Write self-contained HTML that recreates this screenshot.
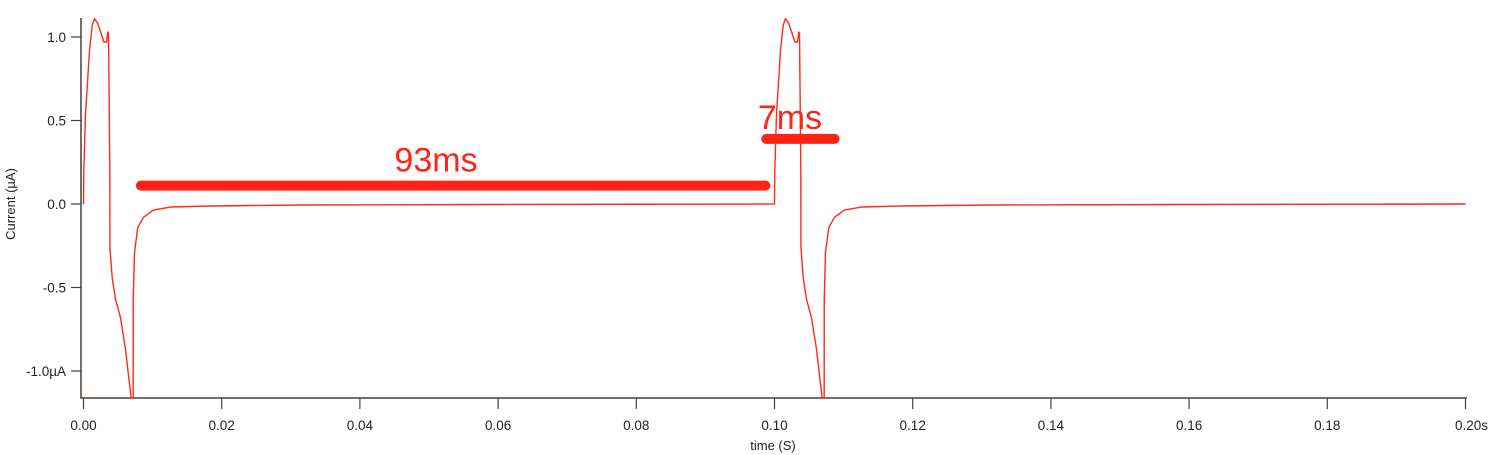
<!DOCTYPE html>
<html><head><meta charset="utf-8"><style>
html,body{margin:0;padding:0;background:#fff;}
svg{display:block;font-family:"Liberation Sans",sans-serif;}
</style></head><body>
<svg id="chart" width="1500" height="455" viewBox="0 0 1500 455" xmlns="http://www.w3.org/2000/svg">
<g id="axes"></g>
<g id="series"></g>
<g id="annot"></g>
</svg>
<script>
// pulse template (time in ms relative to pulse start, current in µA)
const pulseTimes = [0,0.04,0.29,0.54,0.87,1.26,1.59,2.07,2.56,2.94,3.33,3.52,3.62,3.81,3.82,4.15,4.63,5.35,6.08,6.55,6.9,7.19,7.2,7.38,7.86,8.68,10.1,12.6,18.4,31.4,60];
const pulseValues = [0,0.19,0.54,0.70,0.92,1.07,1.11,1.08,1.02,0.97,0.97,1.03,1.02,0.19,-0.26,-0.44,-0.57,-0.68,-0.87,-1.04,-1.16,-1.16,-0.57,-0.29,-0.14,-0.08,-0.036,-0.018,-0.012,-0.006,-0.003];
const pulseStarts = [0, 100];
const endTime = 200;
const xTicks = [0,0.02,0.04,0.06,0.08,0.10,0.12,0.14,0.16,0.18,0.20];
const xTickLabels = ["0.00","0.02","0.04","0.06","0.08","0.10","0.12","0.14","0.16","0.18","0.20s"];
const yTicks = [1.0,0.5,0.0,-0.5,-1.0];
const yTickLabels = ["1.0","0.5","0.0","-0.5","-1.0\u00b5A"];
const annotations = [{label:"93ms", from:8.3, to:98.7, level:0.11},{label:"7ms", from:98.8, to:108.7, level:0.39}];

const NS="http://www.w3.org/2000/svg";
const X = s => 83.5 + s*6910;
const Xms = ms => X(ms/1000);
const Y = v => 204 - v*167;
function mk(tag, attrs, parent){const e=document.createElementNS(NS,tag);for(const k in attrs)e.setAttribute(k,attrs[k]);parent.appendChild(e);return e;}
const axes=document.getElementById('axes'), series=document.getElementById('series'), annot=document.getElementById('annot');
const ac="#4a3f35";
let e;
e=mk('line',{x1:81,y1:18,x2:81,y2:398.5,stroke:ac,'stroke-width':1.5},axes);


e=mk('line',{x1:80.5,y1:398,x2:1467,y2:398,stroke:ac,'stroke-width':1.5},axes);


xTicks.forEach((t,i)=>{
  const x=X(t);
  let l=mk('line',{x1:x,y1:398,x2:x,y2:409,stroke:ac,'stroke-width':1.2},axes);
  
  
  let tx=mk('text',{x:x+(i==xTicks.length-1?6:0),y:430,'text-anchor':'middle','font-size':13.5,fill:'#222'},axes);
  tx.textContent=xTickLabels[i];
  
  
});
yTicks.forEach((v,i)=>{
  const y=Y(v);
  let l=mk('line',{x1:71,y1:y,x2:81,y2:y,stroke:ac,'stroke-width':1.2},axes);
  
  
  let tx=mk('text',{x:66,y:y+5,'text-anchor':'end','font-size':13.5,fill:'#222'},axes);
  tx.textContent=yTickLabels[i];
  
  
});
e=mk('text',{x:773,y:450,'text-anchor':'middle','font-size':13,fill:'#222'},axes);
e.textContent="time (S)";


e=mk('text',{x:0,y:0,'text-anchor':'middle','font-size':13,fill:'#222',transform:'translate(15,204) rotate(-90)'},axes);
e.textContent="Current (\u00b5A)";



let pts=[];
pulseStarts.forEach((s,pi)=>{
  const next = pi+1<pulseStarts.length ? pulseStarts[pi+1] : endTime;
  pulseTimes.forEach((t,i)=>{ if(s+t<next) pts.push([s+t,pulseValues[i]]); });
  pts.push([next-0.01, 0]);
});
const d=pts.map((p,i)=>(i?'L':'M')+Xms(p[0]).toFixed(2)+' '+Y(p[1]).toFixed(2)).join(' ');
e=mk('path',{d:d,fill:'none',stroke:'#ff2a1a','stroke-width':1.4,'stroke-linejoin':'round'},series);



annotations.forEach(a=>{
  const x1=Xms(a.from), x2=Xms(a.to), y=Y(a.level);
  let l=mk('line',{x1:x1,y1:y,x2:x2,y2:y,stroke:'#ff2418','stroke-width':10,'stroke-linecap':'round'},annot);
  
  
  let t=mk('text',{x:(a.label=="93ms"?436:790),y:y-(a.label=="93ms"?14:10),'text-anchor':'middle','font-size':34,fill:'#ff2418'},annot);
  t.textContent=a.label;
  
  
});
</script>
</body></html>
